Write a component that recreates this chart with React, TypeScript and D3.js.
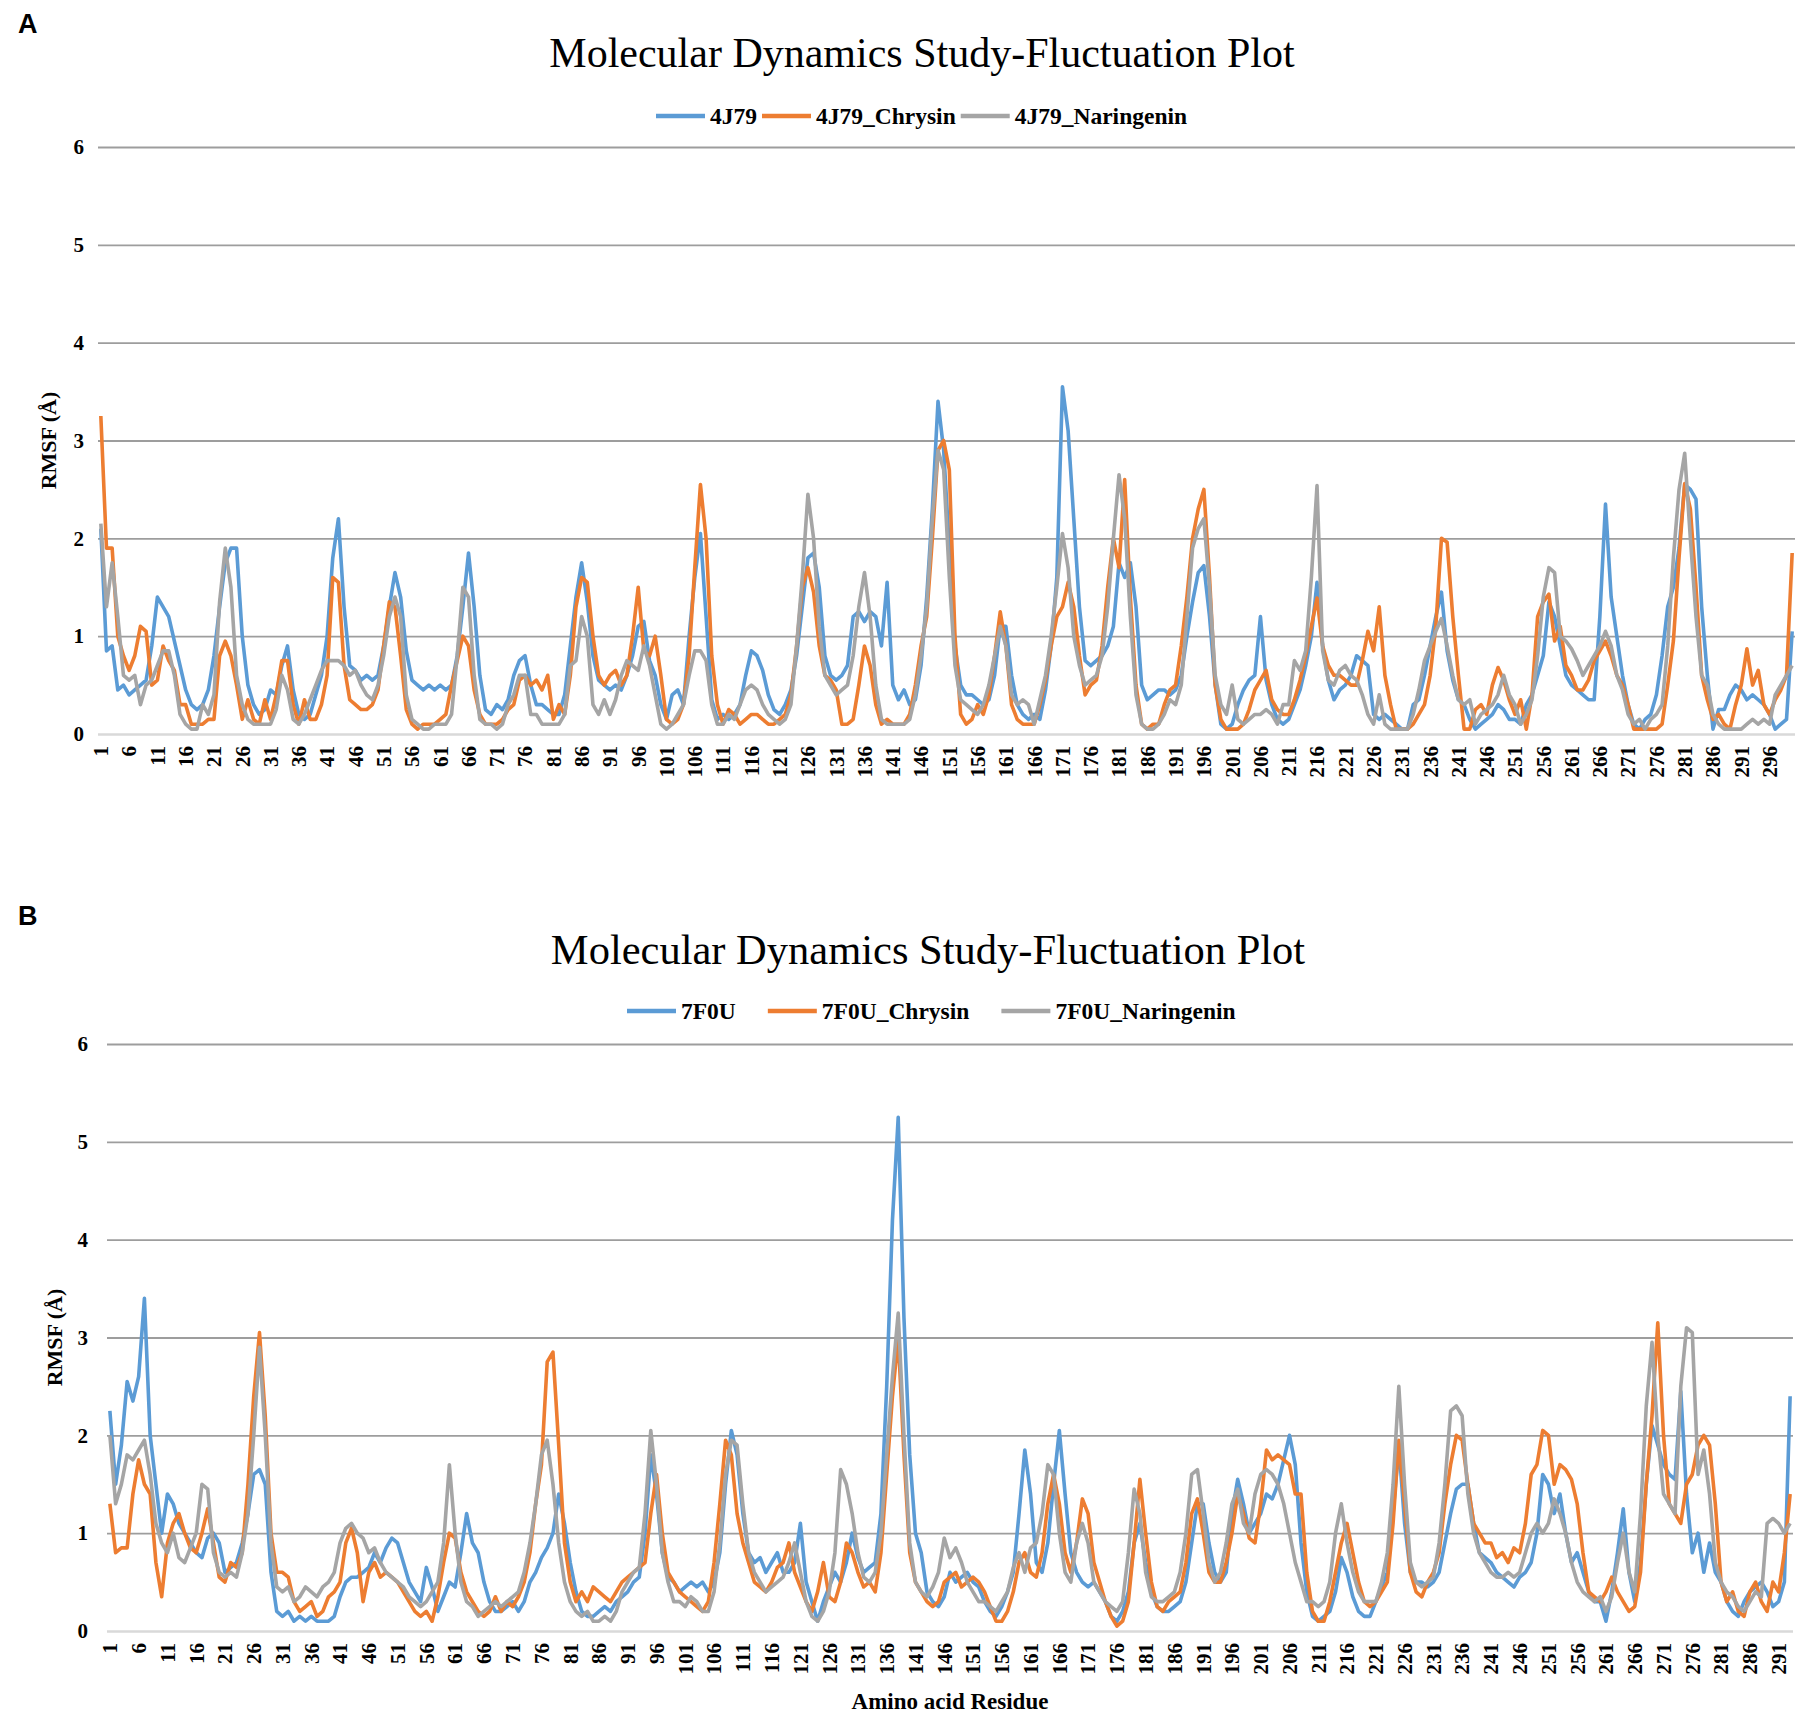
import { useEffect, useRef } from 'react'
import * as d3 from 'd3'

const W = 1795, H = 1721
const SERIF = '"Liberation Serif", "Times New Roman", serif'
const SANS = '"Liberation Sans", Arial, sans-serif'
const COLORS = ['#5b9bd5', '#ed7d31', '#a5a5a5']
const Y_TICKS = [0, 1, 2, 3, 4, 5, 6]
const TITLE = 'Molecular Dynamics Study-Fluctuation Plot'

// ---- panel A : 4J79 (residues 1..300)
const A_NAMES = ['4J79', '4J79_Chrysin', '4J79_Naringenin']
const A_4J79 = [
  2.1, 0.85, 0.9, 0.45, 0.5, 0.4, 0.45, 0.5, 0.55, 0.9,
  1.4, 1.3, 1.2, 0.95, 0.7, 0.45, 0.3, 0.25, 0.3, 0.45,
  0.8, 1.3, 1.75, 1.9, 1.9, 1.0, 0.5, 0.3, 0.2, 0.25,
  0.45, 0.4, 0.7, 0.9, 0.45, 0.2, 0.15, 0.2, 0.4, 0.6,
  1.0, 1.8, 2.2, 1.3, 0.7, 0.65, 0.55, 0.6, 0.55, 0.6,
  0.9, 1.3, 1.65, 1.4, 0.85, 0.55, 0.5, 0.45, 0.5, 0.45,
  0.5, 0.45, 0.5, 0.8, 1.3, 1.85, 1.3, 0.6, 0.25, 0.2,
  0.3, 0.25, 0.35, 0.6, 0.75, 0.8, 0.5, 0.3, 0.3, 0.25,
  0.2, 0.2, 0.4, 0.9, 1.4, 1.75, 1.35, 0.8, 0.55, 0.5,
  0.45, 0.5, 0.45, 0.6, 0.8, 1.1, 1.15, 0.75, 0.6, 0.3,
  0.15, 0.4, 0.45, 0.3, 1.0, 1.6, 2.05, 1.2, 0.35, 0.15,
  0.2, 0.15, 0.2, 0.3, 0.6, 0.85, 0.8, 0.65, 0.4, 0.25,
  0.2, 0.3, 0.45, 0.8, 1.3, 1.8, 1.85, 1.5, 0.8, 0.6,
  0.55, 0.6, 0.7, 1.2, 1.25, 1.15, 1.25, 1.2, 0.9, 1.55,
  0.5, 0.35, 0.45, 0.3, 0.35, 0.7, 1.4, 2.3, 3.4, 2.9,
  1.9, 0.9, 0.5, 0.4, 0.4, 0.35, 0.3, 0.35, 0.6, 1.1,
  1.1, 0.6, 0.3, 0.2, 0.15, 0.2, 0.15, 0.45, 0.9, 1.6,
  3.55, 3.1, 2.2, 1.3, 0.75, 0.7, 0.75, 0.8, 0.9, 1.1,
  1.75, 1.6, 1.75, 1.3, 0.5, 0.35, 0.4, 0.45, 0.45, 0.4,
  0.45, 0.6, 1.0, 1.35, 1.65, 1.72, 1.2, 0.5, 0.1, 0.05,
  0.1, 0.3, 0.45, 0.55, 0.6, 1.2, 0.55, 0.3, 0.15, 0.1,
  0.15, 0.3, 0.45, 0.7, 1.0, 1.55, 0.9, 0.55, 0.35, 0.45,
  0.5, 0.6, 0.8, 0.75, 0.7, 0.2, 0.15, 0.2, 0.15, 0.1,
  0.05, 0.05, 0.3, 0.35, 0.6, 0.9, 1.2, 1.45, 0.85, 0.55,
  0.35, 0.3, 0.15, 0.05, 0.1, 0.15, 0.2, 0.3, 0.25, 0.15,
  0.15, 0.1, 0.3, 0.4, 0.6, 0.8, 1.35, 1.2, 0.9, 0.6,
  0.5, 0.45, 0.4, 0.35, 0.35, 1.2, 2.35, 1.4, 1.0, 0.6,
  0.3, 0.1, 0.05, 0.15, 0.2, 0.4, 0.8, 1.3, 1.5, 1.9,
  2.55, 2.5, 2.4, 1.3, 0.6, 0.05, 0.25, 0.25, 0.4, 0.5,
  0.45, 0.35, 0.4, 0.35, 0.3, 0.2, 0.05, 0.1, 0.15, 1.05,
]
const A_CHRYSIN = [
  3.25, 1.9, 1.9, 1.0, 0.8, 0.65, 0.8, 1.1, 1.05, 0.5,
  0.55, 0.9, 0.75, 0.65, 0.3, 0.3, 0.1, 0.1, 0.1, 0.15,
  0.15, 0.8, 0.95, 0.8, 0.5, 0.15, 0.35, 0.15, 0.1, 0.35,
  0.15, 0.4, 0.75, 0.75, 0.3, 0.1, 0.35, 0.15, 0.15, 0.3,
  0.6, 1.6, 1.55, 0.7, 0.35, 0.3, 0.25, 0.25, 0.3, 0.45,
  0.9, 1.35, 1.3, 0.8, 0.25, 0.1, 0.05, 0.1, 0.1, 0.1,
  0.15, 0.2, 0.5, 0.75, 1.0, 0.9, 0.45, 0.2, 0.1, 0.1,
  0.1, 0.15, 0.25, 0.3, 0.55, 0.6, 0.5, 0.55, 0.45, 0.6,
  0.15, 0.3, 0.2, 0.6, 1.3, 1.6, 1.55, 1.0, 0.6, 0.5,
  0.6, 0.65, 0.5, 0.6, 1.0, 1.5, 0.85, 0.8, 1.0, 0.6,
  0.15, 0.1, 0.15, 0.3, 0.8, 1.7, 2.55, 2.0, 0.8, 0.3,
  0.1, 0.25, 0.2, 0.1, 0.15, 0.2, 0.2, 0.15, 0.1, 0.1,
  0.15, 0.2, 0.4, 0.9, 1.5, 1.7, 1.45, 0.9, 0.6, 0.55,
  0.45, 0.1, 0.1, 0.15, 0.5, 0.9, 0.7, 0.3, 0.1, 0.15,
  0.1, 0.1, 0.1, 0.2, 0.5, 0.9, 1.2, 2.0, 2.9, 3.0,
  2.7, 1.0, 0.2, 0.1, 0.15, 0.3, 0.2, 0.4, 0.8, 1.25,
  0.9, 0.3, 0.15, 0.1, 0.1, 0.1, 0.3, 0.55, 0.9, 1.2,
  1.3, 1.55, 1.3, 0.8, 0.4, 0.5, 0.55, 0.9, 1.5, 2.0,
  1.7, 2.6, 1.4, 0.5, 0.1, 0.05, 0.1, 0.1, 0.3, 0.45,
  0.5, 0.9, 1.4, 2.0, 2.3, 2.5, 1.6, 0.5, 0.15, 0.05,
  0.05, 0.05, 0.1, 0.25, 0.45, 0.55, 0.65, 0.35, 0.25, 0.2,
  0.2, 0.35, 0.55, 0.8, 1.1, 1.39, 0.9, 0.7, 0.6, 0.6,
  0.55, 0.5, 0.5, 0.75, 1.05, 0.85, 1.3, 0.6, 0.3, 0.05,
  0.05, 0.05, 0.1, 0.2, 0.3, 0.6, 1.1, 2.0, 1.96, 1.2,
  0.6, 0.05, 0.05, 0.25, 0.3, 0.2, 0.5, 0.68, 0.55, 0.35,
  0.2, 0.35, 0.05, 0.4, 1.2, 1.35, 1.43, 0.95, 1.1, 0.7,
  0.6, 0.45, 0.45, 0.55, 0.75, 0.85, 0.95, 0.8, 0.6, 0.5,
  0.3, 0.05, 0.05, 0.05, 0.05, 0.05, 0.1, 0.5, 0.95, 1.8,
  2.56, 2.3, 1.5, 0.6, 0.35, 0.15, 0.2, 0.1, 0.05, 0.3,
  0.5, 0.87, 0.5, 0.65, 0.3, 0.2, 0.35, 0.45, 0.6, 1.85,
]
const A_NARINGENIN = [
  2.15, 1.3, 1.75, 1.2, 0.6, 0.55, 0.6, 0.3, 0.5, 0.55,
  0.7, 0.85, 0.85, 0.6, 0.2, 0.1, 0.05, 0.05, 0.3, 0.2,
  0.4, 1.35, 1.9, 1.5, 0.6, 0.3, 0.15, 0.1, 0.1, 0.1,
  0.1, 0.25, 0.6, 0.45, 0.15, 0.1, 0.2, 0.35, 0.5, 0.65,
  0.75, 0.75, 0.75, 0.7, 0.6, 0.65, 0.5, 0.4, 0.35, 0.5,
  0.8, 1.2, 1.4, 1.2, 0.4, 0.15, 0.1, 0.05, 0.05, 0.1,
  0.1, 0.1, 0.2, 0.8, 1.5, 1.4, 0.6, 0.15, 0.1, 0.1,
  0.05, 0.1, 0.3, 0.4, 0.6, 0.6, 0.2, 0.2, 0.1, 0.1,
  0.1, 0.1, 0.2, 0.7, 0.75, 1.2, 1.0, 0.3, 0.2, 0.35,
  0.2, 0.35, 0.6, 0.75, 0.7, 0.65, 0.9, 0.7, 0.4, 0.1,
  0.05, 0.1, 0.2, 0.3, 0.6, 0.85, 0.85, 0.75, 0.3, 0.1,
  0.1, 0.2, 0.15, 0.3, 0.45, 0.5, 0.45, 0.3, 0.2, 0.15,
  0.1, 0.15, 0.3, 0.9, 1.6, 2.45, 2.0, 1.1, 0.6, 0.5,
  0.4, 0.45, 0.5, 0.8, 1.3, 1.65, 1.2, 0.5, 0.15, 0.1,
  0.1, 0.1, 0.1, 0.15, 0.4, 0.8, 1.3, 2.2, 2.9, 2.7,
  1.6, 0.7, 0.35, 0.3, 0.25, 0.2, 0.3, 0.5, 0.8, 1.1,
  0.9, 0.4, 0.3, 0.35, 0.3, 0.1, 0.35, 0.6, 1.0, 1.5,
  2.05, 1.7, 1.0, 0.7, 0.5, 0.55, 0.6, 0.8, 1.3, 2.0,
  2.65, 2.2, 1.2, 0.4, 0.1, 0.05, 0.05, 0.1, 0.2, 0.35,
  0.3, 0.5, 1.2, 1.9, 2.1, 2.2, 1.5, 0.6, 0.3, 0.2,
  0.5, 0.15, 0.1, 0.15, 0.2, 0.2, 0.25, 0.2, 0.1, 0.3,
  0.3, 0.75, 0.65, 0.85, 1.6, 2.54, 0.85, 0.55, 0.5, 0.65,
  0.7, 0.6, 0.55, 0.4, 0.2, 0.1, 0.4, 0.1, 0.05, 0.05,
  0.05, 0.05, 0.2, 0.45, 0.75, 0.9, 1.05, 1.18, 0.9, 0.6,
  0.35, 0.3, 0.35, 0.1, 0.2, 0.25, 0.3, 0.4, 0.6, 0.4,
  0.3, 0.1, 0.2, 0.35, 0.8, 1.4, 1.7, 1.65, 1.0, 0.95,
  0.87, 0.75, 0.6, 0.7, 0.8, 0.9, 1.05, 0.9, 0.6, 0.45,
  0.2, 0.1, 0.15, 0.05, 0.15, 0.2, 0.3, 0.9, 1.8, 2.5,
  2.87, 2.0, 1.2, 0.6, 0.5, 0.2, 0.1, 0.05, 0.05, 0.05,
  0.05, 0.1, 0.15, 0.1, 0.15, 0.1, 0.4, 0.5, 0.6, 0.7,
]

// ---- panel B : 7F0U (residues 1..293)
const B_NAMES = ['7F0U', '7F0U_Chrysin', '7F0U_Naringenin']
const B_7F0U = [
  2.25, 1.5, 1.9, 2.55, 2.35, 2.6, 3.4, 2.0, 1.5, 1.0,
  1.4, 1.3, 1.1, 1.0, 0.9, 0.8, 0.75, 0.95, 1.0, 0.9,
  0.6, 0.65, 0.7, 0.9, 1.2, 1.6, 1.65, 1.5, 0.6, 0.2,
  0.15, 0.2, 0.1, 0.15, 0.1, 0.15, 0.1, 0.1, 0.1, 0.15,
  0.35, 0.5, 0.55, 0.55, 0.6, 0.65, 0.8, 0.7, 0.85, 0.95,
  0.9, 0.7, 0.5, 0.4, 0.3, 0.65, 0.45, 0.2, 0.35, 0.5,
  0.45, 0.8, 1.2, 0.9, 0.8, 0.5, 0.3, 0.2, 0.2, 0.25,
  0.3, 0.2, 0.3, 0.5, 0.6, 0.75, 0.85, 1.0, 1.4, 1.1,
  0.7, 0.4, 0.2, 0.15, 0.15, 0.2, 0.25, 0.2, 0.3, 0.35,
  0.4, 0.5, 0.55, 1.0, 1.8, 1.4, 0.8, 0.55, 0.5, 0.4,
  0.45, 0.5, 0.45, 0.5, 0.4, 0.5, 0.8, 1.5, 2.05, 1.8,
  1.2, 0.8, 0.7, 0.75, 0.6, 0.7, 0.8, 0.6, 0.6, 0.7,
  1.1, 0.5, 0.3, 0.1, 0.3, 0.45, 0.6, 0.5, 0.7, 1.0,
  0.75, 0.6, 0.65, 0.7, 1.2, 2.5, 4.2, 5.25, 3.2, 1.8,
  1.0, 0.8, 0.4, 0.3, 0.25, 0.35, 0.6, 0.5, 0.55, 0.6,
  0.5, 0.45, 0.3, 0.2, 0.15, 0.25, 0.4, 0.6, 1.2, 1.85,
  1.4, 0.7, 0.6, 0.9, 1.5, 2.05, 1.4, 0.8, 0.6, 0.5,
  0.45, 0.5, 0.4, 0.3, 0.15, 0.1, 0.2, 0.4, 0.9, 1.1,
  0.7, 0.4, 0.25, 0.2, 0.2, 0.25, 0.3, 0.5, 0.9, 1.3,
  1.3, 0.9, 0.6, 0.5, 0.6, 1.2, 1.55, 1.3, 1.0, 1.1,
  1.2, 1.4, 1.35, 1.5, 1.75, 2.0, 1.7, 0.9, 0.4, 0.15,
  0.1, 0.15, 0.2, 0.4, 0.75, 0.6, 0.35, 0.2, 0.15, 0.15,
  0.3, 0.45, 0.6, 1.2, 1.9, 1.1, 0.6, 0.5, 0.5, 0.45,
  0.5, 0.6, 0.9, 1.2, 1.45, 1.5, 1.5, 1.1, 0.8, 0.75,
  0.7, 0.6, 0.55, 0.5, 0.45, 0.55, 0.6, 0.7, 1.0, 1.6,
  1.5, 1.2, 1.4, 1.0, 0.7, 0.8, 0.6, 0.4, 0.3, 0.3,
  0.1, 0.4, 0.8, 1.25, 0.6, 0.3, 0.7, 1.5, 2.1, 1.9,
  1.7, 1.6, 1.55, 2.45, 1.4, 0.8, 1.0, 0.6, 0.9, 0.6,
  0.5, 0.3, 0.2, 0.15, 0.3, 0.4, 0.45, 0.5, 0.4, 0.25,
  0.3, 0.5, 2.4,
]
const B_CHRYSIN = [
  1.3, 0.8, 0.85, 0.85, 1.4, 1.75, 1.5, 1.4, 0.7, 0.35,
  0.9, 1.1, 1.2, 1.0, 0.85, 0.8, 1.0, 1.25, 0.9, 0.55,
  0.5, 0.7, 0.65, 0.8, 1.5, 2.4, 3.05, 2.2, 1.0, 0.6,
  0.6, 0.55, 0.3, 0.2, 0.25, 0.3, 0.15, 0.2, 0.35, 0.4,
  0.5, 0.9, 1.05, 0.8, 0.3, 0.6, 0.7, 0.55, 0.6, 0.55,
  0.5, 0.4, 0.3, 0.2, 0.15, 0.2, 0.1, 0.35, 0.7, 1.0,
  0.95, 0.6, 0.4, 0.3, 0.2, 0.15, 0.2, 0.35, 0.2, 0.3,
  0.25, 0.35, 0.5, 0.8, 1.3, 1.7, 2.75, 2.85, 1.9, 0.9,
  0.5, 0.3, 0.4, 0.3, 0.45, 0.4, 0.35, 0.3, 0.4, 0.5,
  0.55, 0.6, 0.65, 0.7, 1.2, 1.6, 1.0, 0.6, 0.5, 0.4,
  0.35, 0.3, 0.25, 0.2, 0.3, 0.7, 1.3, 1.95, 1.8, 1.2,
  0.9, 0.7, 0.5, 0.45, 0.4, 0.5, 0.65, 0.7, 0.9, 0.6,
  0.45, 0.3, 0.2, 0.4, 0.7, 0.35, 0.3, 0.5, 0.9, 0.8,
  0.6, 0.45, 0.5, 0.4, 0.8, 1.6, 2.4, 3.0, 1.8, 0.8,
  0.5, 0.4, 0.3, 0.25, 0.3, 0.5, 0.55, 0.6, 0.45, 0.5,
  0.55, 0.5, 0.4, 0.25, 0.1, 0.1, 0.2, 0.4, 0.7, 0.8,
  0.6, 0.55, 0.8, 1.3, 1.6, 1.3, 0.8, 0.6, 0.9, 1.35,
  1.2, 0.7, 0.5, 0.3, 0.15, 0.05, 0.1, 0.3, 0.9, 1.55,
  1.0, 0.5, 0.25, 0.2, 0.3, 0.35, 0.4, 0.7, 1.2, 1.35,
  1.0, 0.6, 0.5, 0.5, 0.7, 1.0, 1.4, 1.2, 0.95, 0.9,
  1.3, 1.85, 1.75, 1.8, 1.75, 1.7, 1.4, 1.4, 0.6, 0.2,
  0.1, 0.1, 0.3, 0.6, 0.9, 1.1, 0.8, 0.5, 0.3, 0.25,
  0.3, 0.4, 0.5, 1.1, 1.95, 1.3, 0.6, 0.4, 0.35, 0.5,
  0.6, 0.8, 1.3, 1.7, 2.0, 1.95, 1.5, 1.1, 1.0, 0.9,
  0.9, 0.75, 0.8, 0.7, 0.85, 0.8, 1.1, 1.6, 1.7, 2.05,
  2.0, 1.5, 1.7, 1.65, 1.55, 1.3, 0.8, 0.4, 0.35, 0.3,
  0.4, 0.55, 0.4, 0.3, 0.2, 0.25, 0.6, 1.5, 2.2, 3.15,
  2.0, 1.3, 1.2, 1.1, 1.5, 1.6, 1.9, 2.0, 1.9, 1.3,
  0.5, 0.3, 0.4, 0.2, 0.15, 0.4, 0.5, 0.3, 0.2, 0.5,
  0.4, 0.8, 1.4,
]
const B_NARINGENIN = [
  2.0, 1.3, 1.5, 1.8, 1.75, 1.85, 1.95, 1.6, 1.1, 0.9,
  0.8, 1.0, 0.75, 0.7, 0.85, 1.0, 1.5, 1.45, 0.8, 0.6,
  0.55, 0.6, 0.55, 0.8, 1.2, 2.0, 2.9, 2.0, 0.9, 0.45,
  0.4, 0.45, 0.3, 0.35, 0.45, 0.4, 0.35, 0.45, 0.5, 0.6,
  0.9, 1.05, 1.1, 1.0, 0.95, 0.8, 0.85, 0.7, 0.6, 0.55,
  0.5, 0.45, 0.35, 0.3, 0.25, 0.3, 0.4, 0.5, 0.9, 1.7,
  1.0, 0.5, 0.3, 0.25, 0.15, 0.2, 0.25, 0.3, 0.25, 0.3,
  0.35, 0.4, 0.6, 0.9, 1.3, 1.8, 1.95, 1.5, 0.9, 0.5,
  0.3, 0.2, 0.15, 0.2, 0.1, 0.1, 0.15, 0.1, 0.2, 0.4,
  0.5, 0.6, 0.65, 1.2, 2.05, 1.5, 0.8, 0.5, 0.3, 0.3,
  0.25, 0.35, 0.3, 0.2, 0.2, 0.4, 0.9, 1.6, 1.95, 1.9,
  1.3, 0.8, 0.6, 0.5, 0.4, 0.45, 0.5, 0.55, 0.7, 0.9,
  0.6, 0.3, 0.15, 0.1, 0.2, 0.4, 0.8, 1.65, 1.5, 1.2,
  0.8, 0.55, 0.5, 0.6, 1.0, 1.8, 2.6, 3.25, 2.0, 0.9,
  0.5, 0.4, 0.35, 0.45, 0.6, 0.95, 0.75, 0.85, 0.7, 0.5,
  0.4, 0.3, 0.3, 0.25, 0.2, 0.3, 0.4, 0.65, 0.8, 0.6,
  0.85, 0.9, 1.2, 1.7, 1.6, 1.0, 0.6, 0.5, 0.9, 1.1,
  0.9, 0.5, 0.4, 0.3, 0.25, 0.2, 0.3, 0.8, 1.45, 1.2,
  0.6, 0.35, 0.3, 0.3, 0.35, 0.4, 0.6, 1.0, 1.6, 1.65,
  1.2, 0.7, 0.5, 0.6, 0.9, 1.3, 1.45, 1.1, 1.0, 1.4,
  1.6, 1.65, 1.6, 1.5, 1.3, 1.0, 0.7, 0.5, 0.3, 0.3,
  0.25, 0.3, 0.5, 1.0, 1.3, 0.9, 0.6, 0.4, 0.3, 0.3,
  0.3, 0.5, 0.8, 1.5, 2.5, 1.5, 0.7, 0.5, 0.45, 0.5,
  0.55, 0.9, 1.5, 2.25, 2.3, 2.2, 1.4, 1.0, 0.8, 0.7,
  0.6, 0.55, 0.55, 0.6, 0.55, 0.6, 0.8, 1.0, 1.1, 1.0,
  1.1, 1.35, 1.2, 1.0, 0.7, 0.5, 0.4, 0.35, 0.3, 0.35,
  0.2, 0.35, 0.7, 1.0, 0.6, 0.4, 1.2, 2.3, 2.95, 2.0,
  1.4, 1.3, 1.2, 2.5, 3.1, 3.05, 1.6, 1.85, 1.4, 0.7,
  0.5, 0.4, 0.35, 0.25, 0.2, 0.3, 0.4, 0.35, 1.1, 1.15,
  1.1, 1.0, 1.1,
]

type Panel = {
  letter: string; letterY: number
  names: string[]; series: number[][]
  x0: number; x1: number; yBase: number; yTop: number
  titleX: number; titleY: number; titleSize: number
  legendX: number; legendY: number; legendGap: number
  yLabelX: number; yTickPad: number
  xTitle?: string; xTitleY?: number
}

const PANELS: Panel[] = [
  {
    letter: 'A', letterY: 33,
    names: A_NAMES, series: [A_4J79, A_CHRYSIN, A_NARINGENIN],
    x0: 98, x1: 1795, yBase: 734, yTop: 147,
    titleX: 922, titleY: 67, titleSize: 42,
    legendX: 656, legendY: 116, legendGap: 5,
    yLabelX: 48, yTickPad: 14,
  },
  {
    letter: 'B', letterY: 925,
    names: B_NAMES, series: [B_7F0U, B_CHRYSIN, B_NARINGENIN],
    x0: 107, x1: 1793, yBase: 1631, yTop: 1044,
    titleX: 928, titleY: 964, titleSize: 42.5,
    legendX: 627, legendY: 1011, legendGap: 32,
    yLabelX: 54, yTickPad: 19,
    xTitle: 'Amino acid Residue', xTitleY: 1709,
  },
]

function drawPanel(svg: d3.Selection<SVGSVGElement, unknown, null, undefined>, p: Panel) {
  const n = p.series[0].length
  const x = d3.scaleBand<number>().domain(d3.range(1, n + 1)).range([p.x0, p.x1])
  const bw = x.bandwidth()
  const y = d3.scaleLinear().domain([0, 6]).range([p.yBase, p.yTop])
  const g = svg.append('g')

  // panel letter
  g.append('text').attr('x', 18).attr('y', p.letterY)
    .attr('font-family', SANS).attr('font-weight', 'bold').attr('font-size', 27).text(p.letter)

  // title
  g.append('text').attr('x', p.titleX).attr('y', p.titleY).attr('text-anchor', 'middle')
    .attr('font-family', SERIF).attr('font-size', p.titleSize).text(TITLE)

  // gridlines + y ticks
  g.append('g').attr('transform', `translate(${p.x0},0)`)
    .call(d3.axisLeft(y).tickValues(Y_TICKS).tickSize(-(p.x1 - p.x0)).tickPadding(p.yTickPad).tickFormat(d3.format('d')))
    .attr('font-family', SERIF).attr('font-size', 21).attr('font-weight', 'bold')
    .call(a => a.select('.domain').remove())
    .call(a => a.selectAll<SVGLineElement, number>('line')
      .attr('stroke', d => d === 0 ? '#d9d9d9' : '#9d9d9d').attr('stroke-width', d => d === 0 ? 2.5 : 1.8))
    .call(a => a.selectAll('text').attr('fill', '#000'))

  // y title
  g.append('text')
    .attr('transform', `translate(${p.yLabelX},${(p.yBase + p.yTop) / 2}) rotate(-90)`)
    .attr('dy', '0.35em').attr('text-anchor', 'middle')
    .attr('font-family', SERIF).attr('font-weight', 'bold').attr('font-size', 22).text('RMSF (Å)')

  // x tick labels every 5th residue
  const ticks = x.domain().filter(r => (r - 1) % 5 === 0)
  g.append('g').selectAll('text').data(ticks).join('text')
    .attr('transform', r => `translate(${x(r)! + bw / 2},${p.yBase + 12}) rotate(-90)`)
    .attr('dy', '0.35em').attr('text-anchor', 'end')
    .attr('font-family', SERIF).attr('font-weight', 'bold').attr('font-size', 21)
    .text(r => String(r))

  // series lines
  const line = d3.line<number>().x((_, i) => x(i + 1)! + bw / 2).y(v => y(v))
  p.series.forEach((s, i) => {
    g.append('path').datum(s).attr('fill', 'none').attr('stroke', COLORS[i])
      .attr('stroke-width', 3.6).attr('stroke-linejoin', 'round').attr('d', line)
  })

  // legend
  let lx = p.legendX
  p.names.forEach((name, i) => {
    g.append('line').attr('x1', lx).attr('x2', lx + 49).attr('y1', p.legendY).attr('y2', p.legendY)
      .attr('stroke', COLORS[i]).attr('stroke-width', 4.5)
    const t = g.append('text').attr('x', lx + 54).attr('y', p.legendY).attr('dy', '0.33em')
      .attr('font-family', SERIF).attr('font-weight', 'bold').attr('font-size', 23.5).text(name)
    const w = (t.node() as SVGTextElement).getComputedTextLength()
    lx += 54 + w + p.legendGap
  })

  if (p.xTitle) {
    g.append('text').attr('x', 950).attr('y', p.xTitleY!).attr('text-anchor', 'middle')
      .attr('font-family', SERIF).attr('font-weight', 'bold').attr('font-size', 23).text(p.xTitle)
  }
}

export default function App() {
  const ref = useRef<SVGSVGElement>(null)

  useEffect(() => {
    document.body.style.margin = '0'
    if (!ref.current) return
    const svg = d3.select(ref.current)
    svg.selectAll('*').remove()
    PANELS.forEach(p => drawPanel(svg, p))
  }, [])

  return <svg ref={ref} width={W} height={H} style={{ display: 'block', background: '#fff' }} />
}
